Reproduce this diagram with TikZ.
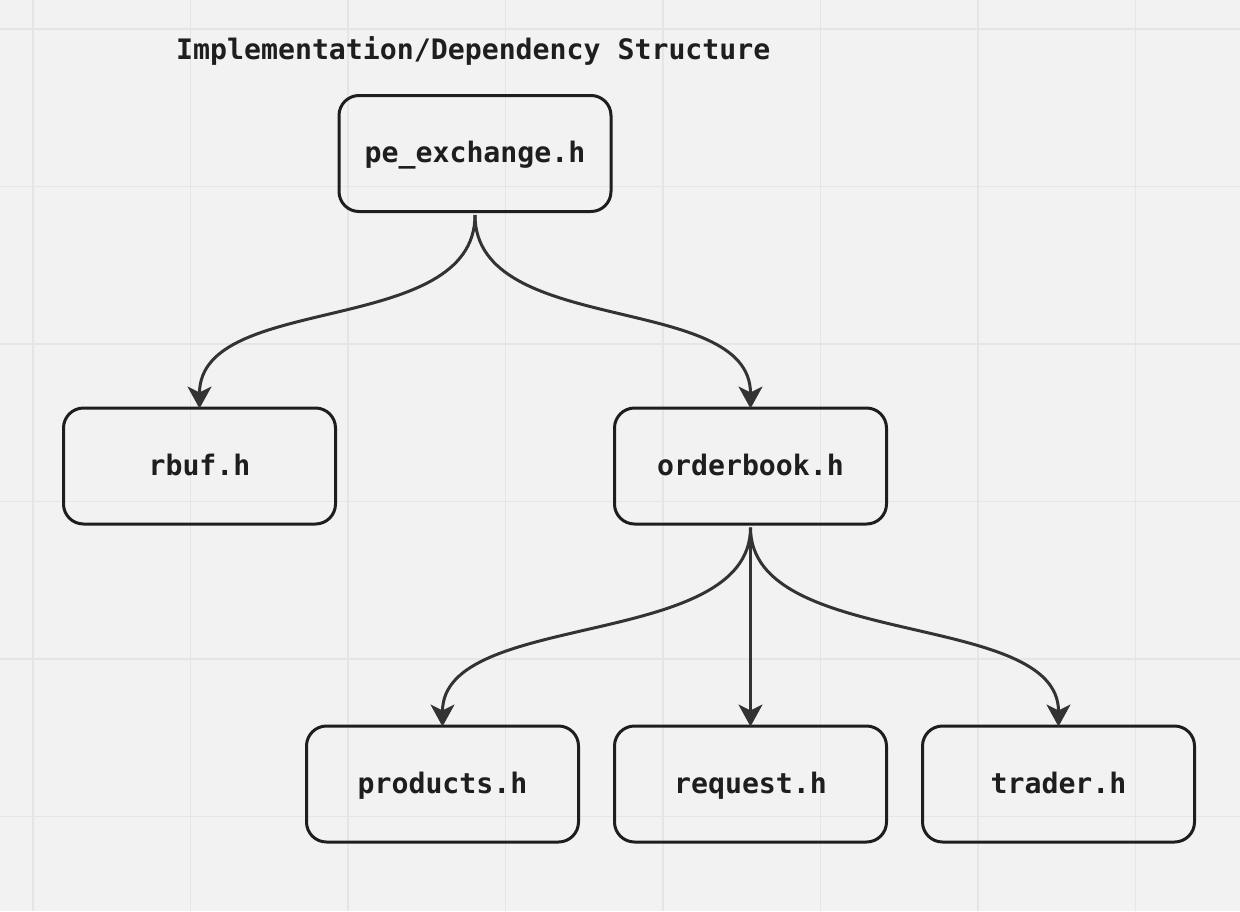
\documentclass[tikz,border=0pt]{standalone}
\usepackage{fontspec}
\setmonofont{DejaVu Sans Mono}
\usetikzlibrary{arrows.meta}
\definecolor{bg}{HTML}{F2F2F2}
\definecolor{gridc}{HTML}{E5E5E5}
\definecolor{ink}{HTML}{1E1E1E}
\definecolor{arr}{HTML}{333333}
\begin{document}
\begin{tikzpicture}[x=1pt,y=-1pt,
  filebox/.style={draw=ink, line width=3pt, rounded corners=20pt, minimum width=272pt, minimum height=116pt, inner sep=0pt, text=ink, text height=22pt, text depth=4pt, font=\ttfamily\bfseries\fontsize{28.2}{34}\selectfont},
  dep/.style={draw=arr, line width=3pt, -{Stealth[length=22pt,width=24pt,inset=6pt]}},
  gridline/.style={draw=gridc, line width=1.2pt}]
\fill[bg] (0,0) rectangle (1240,911);
\useasboundingbox (0,0) rectangle (1240,911);
\foreach \k in {0,...,7} \draw[gridline] ({33+157.5*\k},0) -- ({33+157.5*\k},911);
\foreach \k in {0,...,5} \draw[gridline] (0,{29+157.5*\k}) -- (1240,{29+157.5*\k});
\node[anchor=base west, text=ink, font=\ttfamily\bfseries\fontsize{28.2}{34}\selectfont, inner sep=0pt] (title) at (176,59) {Implementation/Dependency Structure};
\node[filebox] (pe) at (475,153.5) {pe\_exchange.h};
\node[filebox] (rbuf) at (199.5,466) {rbuf.h};
\node[filebox] (ob) at (750.5,466) {orderbook.h};
\node[filebox] (prod) at (442.5,784) {products.h};
\node[filebox] (req) at (750.5,784) {request.h};
\node[filebox] (trader) at (1058.5,784) {trader.h};
\draw[dep] ([yshift=-2pt]pe.south) .. controls ([yshift=-125pt]pe.south) and ([yshift=115pt]rbuf.north) .. ([yshift=-2pt]rbuf.north);
\draw[dep] ([yshift=-2pt]pe.south) .. controls ([yshift=-125pt]pe.south) and ([yshift=115pt]ob.north) .. ([yshift=-2pt]ob.north);
\draw[dep] ([yshift=-2pt]ob.south) .. controls ([yshift=-125pt]ob.south) and ([yshift=115pt]prod.north) .. ([yshift=-2pt]prod.north);
\draw[dep] ([yshift=-2pt]ob.south) -- ([yshift=-2pt]req.north);
\draw[dep] ([yshift=-2pt]ob.south) .. controls ([yshift=-125pt]ob.south) and ([yshift=115pt]trader.north) .. ([yshift=-2pt]trader.north);
\end{tikzpicture}
\end{document}
